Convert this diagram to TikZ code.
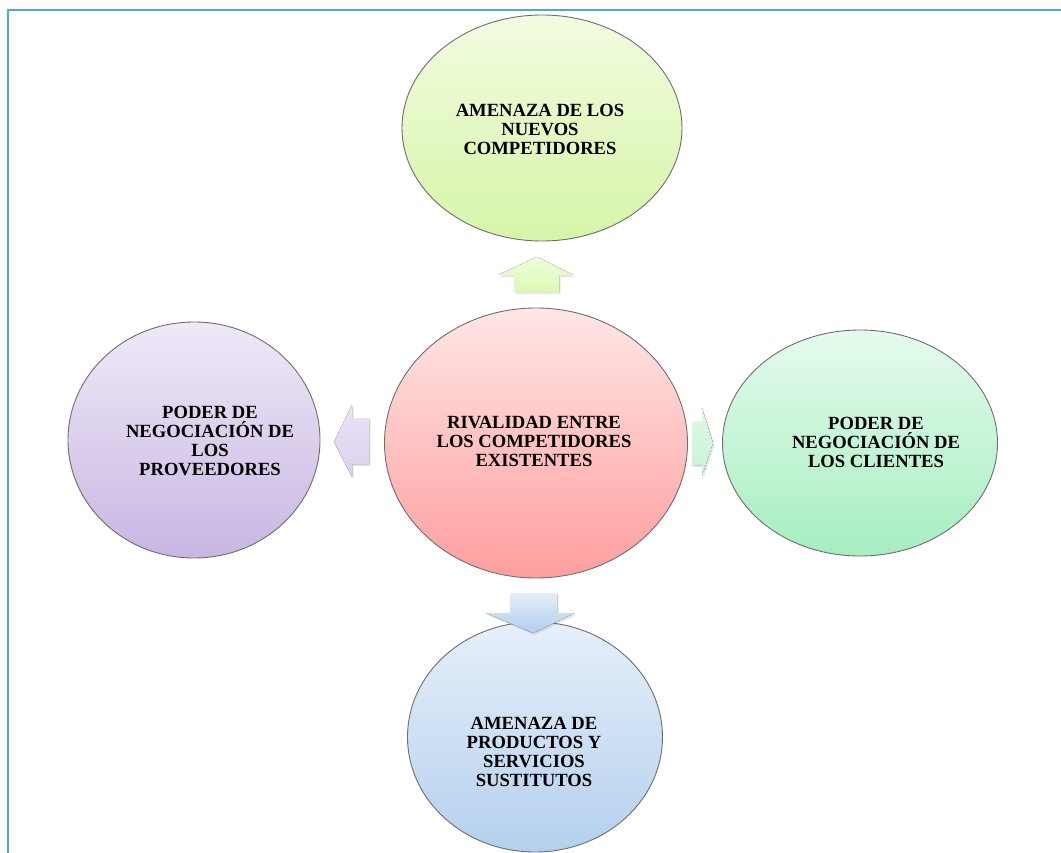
\documentclass[tikz,border=0pt]{standalone}
\usepackage{fontspec}
\setmainfont{Liberation Serif}
\usetikzlibrary{shapes.geometric,shadows}
\definecolor{frame}{HTML}{4BACC6}
\definecolor{edge}{HTML}{6E6E6E}
\begin{document}
\begin{tikzpicture}[x=1pt,y=-1pt,
  blob/.style={ellipse,draw=edge,line width=0.9pt,inner sep=0pt},
  lbl/.style={align=center,font=\fontsize{18.6}{19}\selectfont\bfseries,inner sep=0pt},
  barrow/.style={draw=none,drop shadow={shadow xshift=1.5pt,shadow yshift=-2pt,opacity=0.2}}]
\useasboundingbox (0,0) rectangle (1061,853);
\draw[frame,line width=2.8pt] (8,853) -- (8,10) -- (1061,10);
% ellipses
\node[blob,minimum width=280,minimum height=226,top color={rgb,255:red,242;green,252;blue,224},bottom color={rgb,255:red,214;green,245;blue,168}] (top) at (542,128) {};
\node[blob,minimum width=303,minimum height=270,top color={rgb,255:red,255;green,230;blue,230},bottom color={rgb,255:red,255;green,158;blue,158}] (mid) at (536,443) {};
\node[blob,minimum width=252,minimum height=236,top color={rgb,255:red,239;green,233;blue,247},bottom color={rgb,255:red,200;green,182;blue,226}] (lft) at (194,440) {};
\node[blob,minimum width=275,minimum height=226,top color={rgb,255:red,229;green,251;blue,237},bottom color={rgb,255:red,166;green,238;blue,192}] (rgt) at (860,443) {};
\node[blob,minimum width=255,minimum height=230,top color={rgb,255:red,231;green,239;blue,250},bottom color={rgb,255:red,180;green,208;blue,238}] (bot) at (535,737) {};
% labels
\node[lbl] (ttop) at (540,129) {AMENAZA DE LOS\\NUEVOS\\COMPETIDORES};
\node[lbl] (tmid) at (534,441) {RIVALIDAD ENTRE\\LOS COMPETIDORES\\EXISTENTES};
\node[lbl] (tlft) at (210,441) {PODER DE\\NEGOCIACIÓN DE\\LOS\\PROVEEDORES};
\node[lbl] (trgt) at (876,442) {PODER DE\\NEGOCIACIÓN DE\\LOS CLIENTES};
\node[lbl] (tbot) at (534,752) {AMENAZA DE\\PRODUCTOS Y\\SERVICIOS\\SUSTITUTOS};
% block arrows
\fill[barrow,top color={rgb,255:red,240;green,253;blue,218},bottom color={rgb,255:red,220;green,248;blue,180}]
  (537,257) -- (573,275) -- (559,275) -- (559,292) -- (514,292) -- (514,275) -- (498,275) -- cycle;
\fill[barrow,top color={rgb,255:red,234;green,228;blue,246},bottom color={rgb,255:red,218;green,208;blue,238}]
  (334,442) -- (352,405) -- (352,418) -- (369,418) -- (369,464) -- (352,464) -- (352,477) -- cycle;
\fill[barrow,top color={rgb,255:red,222;green,249;blue,231},bottom color={rgb,255:red,200;green,243;blue,215}]
  (713,443) -- (702,408) -- (702,421) -- (692,421) -- (692,465) -- (702,465) -- (702,476) -- cycle;
\fill[barrow,top color={rgb,255:red,228;green,237;blue,249},bottom color={rgb,255:red,178;green,206;blue,238}]
  (533,633) -- (575,613) -- (557,613) -- (557,593) -- (510,593) -- (510,613) -- (486,613) -- cycle;
\end{tikzpicture}
\end{document}
